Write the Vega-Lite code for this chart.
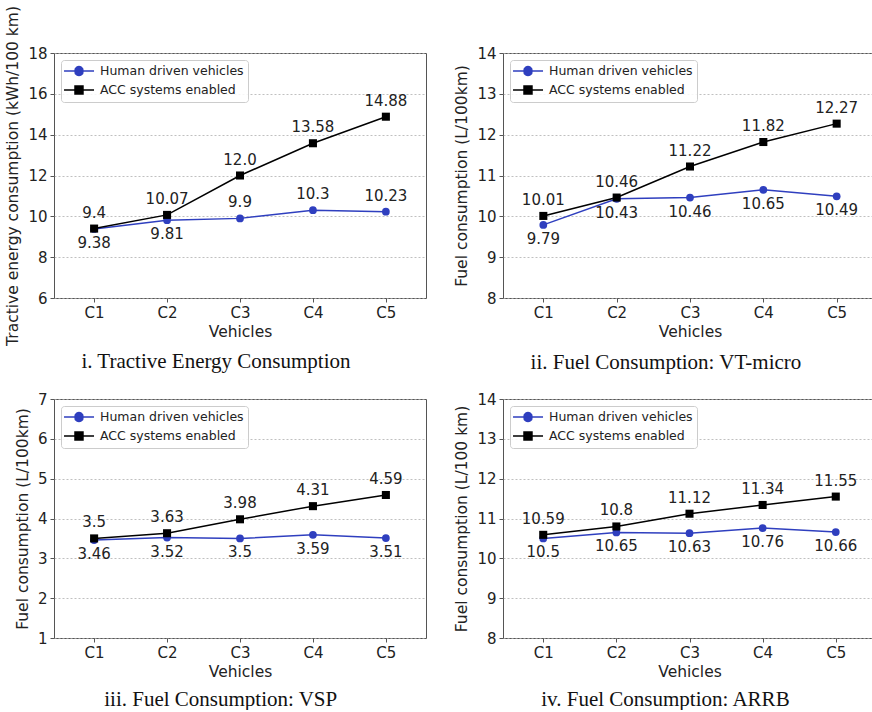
{
  "$schema": "https://vega.github.io/schema/vega-lite/v6.json",
  "padding": {"left": 5, "top": 5, "right": 0, "bottom": 0},
  "background": "white",
  "datasets": {
    "d": [
      {"panel": "i", "vehicle": "C1", "series": "Human driven vehicles", "value": 9.38},
      {"panel": "i", "vehicle": "C2", "series": "Human driven vehicles", "value": 9.81},
      {"panel": "i", "vehicle": "C3", "series": "Human driven vehicles", "value": 9.9},
      {"panel": "i", "vehicle": "C4", "series": "Human driven vehicles", "value": 10.3},
      {"panel": "i", "vehicle": "C5", "series": "Human driven vehicles", "value": 10.23},
      {"panel": "i", "vehicle": "C1", "series": "ACC systems enabled", "value": 9.4},
      {"panel": "i", "vehicle": "C2", "series": "ACC systems enabled", "value": 10.07},
      {"panel": "i", "vehicle": "C3", "series": "ACC systems enabled", "value": 12.0},
      {"panel": "i", "vehicle": "C4", "series": "ACC systems enabled", "value": 13.58},
      {"panel": "i", "vehicle": "C5", "series": "ACC systems enabled", "value": 14.88},
      {"panel": "ii", "vehicle": "C1", "series": "Human driven vehicles", "value": 9.79},
      {"panel": "ii", "vehicle": "C2", "series": "Human driven vehicles", "value": 10.43},
      {"panel": "ii", "vehicle": "C3", "series": "Human driven vehicles", "value": 10.46},
      {"panel": "ii", "vehicle": "C4", "series": "Human driven vehicles", "value": 10.65},
      {"panel": "ii", "vehicle": "C5", "series": "Human driven vehicles", "value": 10.49},
      {"panel": "ii", "vehicle": "C1", "series": "ACC systems enabled", "value": 10.01},
      {"panel": "ii", "vehicle": "C2", "series": "ACC systems enabled", "value": 10.46},
      {"panel": "ii", "vehicle": "C3", "series": "ACC systems enabled", "value": 11.22},
      {"panel": "ii", "vehicle": "C4", "series": "ACC systems enabled", "value": 11.82},
      {"panel": "ii", "vehicle": "C5", "series": "ACC systems enabled", "value": 12.27},
      {"panel": "iii", "vehicle": "C1", "series": "Human driven vehicles", "value": 3.46},
      {"panel": "iii", "vehicle": "C2", "series": "Human driven vehicles", "value": 3.52},
      {"panel": "iii", "vehicle": "C3", "series": "Human driven vehicles", "value": 3.5},
      {"panel": "iii", "vehicle": "C4", "series": "Human driven vehicles", "value": 3.59},
      {"panel": "iii", "vehicle": "C5", "series": "Human driven vehicles", "value": 3.51},
      {"panel": "iii", "vehicle": "C1", "series": "ACC systems enabled", "value": 3.5},
      {"panel": "iii", "vehicle": "C2", "series": "ACC systems enabled", "value": 3.63},
      {"panel": "iii", "vehicle": "C3", "series": "ACC systems enabled", "value": 3.98},
      {"panel": "iii", "vehicle": "C4", "series": "ACC systems enabled", "value": 4.31},
      {"panel": "iii", "vehicle": "C5", "series": "ACC systems enabled", "value": 4.59},
      {"panel": "iv", "vehicle": "C1", "series": "Human driven vehicles", "value": 10.5},
      {"panel": "iv", "vehicle": "C2", "series": "Human driven vehicles", "value": 10.65},
      {"panel": "iv", "vehicle": "C3", "series": "Human driven vehicles", "value": 10.63},
      {"panel": "iv", "vehicle": "C4", "series": "Human driven vehicles", "value": 10.76},
      {"panel": "iv", "vehicle": "C5", "series": "Human driven vehicles", "value": 10.66},
      {"panel": "iv", "vehicle": "C1", "series": "ACC systems enabled", "value": 10.59},
      {"panel": "iv", "vehicle": "C2", "series": "ACC systems enabled", "value": 10.8},
      {"panel": "iv", "vehicle": "C3", "series": "ACC systems enabled", "value": 11.12},
      {"panel": "iv", "vehicle": "C4", "series": "ACC systems enabled", "value": 11.34},
      {"panel": "iv", "vehicle": "C5", "series": "ACC systems enabled", "value": 11.55}
    ]
  },
  "config": {
    "view": {"stroke": "#555", "strokeWidth": 1},
    "axis": {
      "labelFont": "DejaVu Sans", "labelFontSize": 15, "labelColor": "#222",
      "titleFont": "DejaVu Sans", "titleFontSize": 15.5, "titleFontWeight": "normal", "titleColor": "#222",
      "tickColor": "#555", "tickSize": 4, "labelPadding": 3, "domain": false,
      "gridColor": "#b0b0b0", "gridDash": [2, 2], "gridWidth": 0.8
    },
    "title": {"font": "Liberation Serif", "fontSize": 21, "fontWeight": "normal", "color": "#111", "orient": "bottom", "offset": 8, "frame": "bounds", "anchor": "middle"},
    "legend": {
      "title": null, "orient": "top-left", "offset": 7, "padding": 4,
      "symbolSize": 144, "labelOffset": 21, "rowPadding": 3,
      "fillColor": "rgba(255,255,255,0.85)", "strokeColor": "#cccccc", "cornerRadius": 3,
      "labelFont": "DejaVu Sans", "labelFontSize": 12.5, "labelColor": "#222",
      "symbolStrokeWidth": 1.5
    },
    "text": {"font": "DejaVu Sans", "fontSize": 15, "color": "#222", "baseline": "middle"}
  },
  "resolve": {"scale": {"color": "independent", "y": "independent", "x": "independent"}, "legend": {"color": "independent"}},
  "vconcat": [
    {
      "spacing": 27,
      "resolve": {"scale": {"color": "independent", "y": "independent", "x": "independent"}, "legend": {"color": "independent"}},
      "hconcat": [
        {
          "width": 372, "height": 245,
          "title": {"text": "i. Tractive Energy Consumption", "offset": 6},
          "data": {"name": "d"},
          "transform": [
            {"filter": "datum.panel === 'i'"},
            {"calculate": "datum.value === floor(datum.value) ? format(datum.value, '.1f') : '' + datum.value", "as": "label"}
          ],
          "encoding": {
            "x": {"field": "vehicle", "type": "nominal", "scale": {"type": "point", "padding": 0.55}, "axis": {"labelAngle": 0, "title": "Vehicles", "titlePadding": 4}},
            "y": {"field": "value", "type": "quantitative", "scale": {"domain": [6, 18], "nice": false, "zero": false}, "axis": {"values": [6, 8, 10, 12, 14, 16, 18], "title": "Tractive energy consumption (kWh/100 km)", "titlePadding": 7}}
          },
          "layer": [
            {"mark": {"type": "line", "strokeWidth": 1.5},
             "encoding": {"color": {"field": "series", "type": "nominal", "scale": {"domain": ["Human driven vehicles", "ACC systems enabled"], "range": ["#2f3fbf", "#000000"]},
               "legend": {"encode": {"symbols": {"update": {
                 "shape": {"signal": "datum.value === 'Human driven vehicles' ? 'M-1.33,0H3.67M1.83,0A0.67,0.67 0 1,1 0.5,0A0.67,0.67 0 1,1 1.83,0Z' : 'M-1.33,0H3.67M0.5,-0.67H1.83V0.67H0.5Z'"},
                 "fill": {"signal": "datum.value === 'Human driven vehicles' ? '#2f3fbf' : '#000000'"},
                 "stroke": {"signal": "datum.value === 'Human driven vehicles' ? '#2f3fbf' : '#000000'"},
                 "strokeWidth": {"value": 1.5}}}}}}}},
            {"transform": [{"filter": "datum.series === 'Human driven vehicles'"}],
             "mark": {"type": "point", "shape": "circle", "filled": true, "opacity": 1, "size": 60, "color": "#2f3fbf"}},
            {"transform": [{"filter": "datum.series === 'ACC systems enabled'"}],
             "mark": {"type": "point", "shape": "square", "filled": true, "opacity": 1, "size": 65, "color": "#000000"}},
            {"transform": [{"filter": "datum.series === 'ACC systems enabled' || datum.vehicle === 'C3' || datum.vehicle === 'C4' || datum.vehicle === 'C5'"}],
             "mark": {"type": "text", "dy": -16}, "encoding": {"text": {"field": "label"}}},
            {"transform": [{"filter": "datum.series === 'Human driven vehicles' && (datum.vehicle === 'C1' || datum.vehicle === 'C2')"}],
             "mark": {"type": "text", "dy": 14}, "encoding": {"text": {"field": "label"}}}
          ]
        },
        {
          "width": 374, "height": 245,
          "title": {"text": "ii. Fuel Consumption: VT-micro", "offset": 12},
          "data": {"name": "d"},
          "transform": [
            {"filter": "datum.panel === 'ii'"},
            {"calculate": "datum.value === floor(datum.value) ? format(datum.value, '.1f') : '' + datum.value", "as": "label"}
          ],
          "encoding": {
            "x": {"field": "vehicle", "type": "nominal", "scale": {"type": "point", "padding": 0.55}, "axis": {"labelAngle": 0, "title": "Vehicles", "titlePadding": 4}},
            "y": {"field": "value", "type": "quantitative", "scale": {"domain": [8, 14], "nice": false, "zero": false}, "axis": {"values": [8, 9, 10, 11, 12, 13, 14], "title": "Fuel consumption (L/100km)", "titlePadding": 7}}
          },
          "layer": [
            {"mark": {"type": "line", "strokeWidth": 1.5},
             "encoding": {"color": {"field": "series", "type": "nominal", "scale": {"domain": ["Human driven vehicles", "ACC systems enabled"], "range": ["#2f3fbf", "#000000"]},
               "legend": {"encode": {"symbols": {"update": {
                 "shape": {"signal": "datum.value === 'Human driven vehicles' ? 'M-1.33,0H3.67M1.83,0A0.67,0.67 0 1,1 0.5,0A0.67,0.67 0 1,1 1.83,0Z' : 'M-1.33,0H3.67M0.5,-0.67H1.83V0.67H0.5Z'"},
                 "fill": {"signal": "datum.value === 'Human driven vehicles' ? '#2f3fbf' : '#000000'"},
                 "stroke": {"signal": "datum.value === 'Human driven vehicles' ? '#2f3fbf' : '#000000'"},
                 "strokeWidth": {"value": 1.5}}}}}}}},
            {"transform": [{"filter": "datum.series === 'Human driven vehicles'"}],
             "mark": {"type": "point", "shape": "circle", "filled": true, "opacity": 1, "size": 60, "color": "#2f3fbf"}},
            {"transform": [{"filter": "datum.series === 'ACC systems enabled'"}],
             "mark": {"type": "point", "shape": "square", "filled": true, "opacity": 1, "size": 65, "color": "#000000"}},
            {"transform": [{"filter": "datum.series === 'ACC systems enabled'"}],
             "mark": {"type": "text", "dy": -16}, "encoding": {"text": {"field": "label"}}},
            {"transform": [{"filter": "datum.series === 'Human driven vehicles'"}],
             "mark": {"type": "text", "dy": 14}, "encoding": {"text": {"field": "label"}}}
          ]
        }
      ]
    },
    {
      "spacing": 27,
      "resolve": {"scale": {"color": "independent", "y": "independent", "x": "independent"}, "legend": {"color": "independent"}},
      "hconcat": [
        {
          "width": 372, "height": 239,
          "title": {"text": "iii. Fuel Consumption: VSP", "offset": 9},
          "data": {"name": "d"},
          "transform": [
            {"filter": "datum.panel === 'iii'"},
            {"calculate": "datum.value === floor(datum.value) ? format(datum.value, '.1f') : '' + datum.value", "as": "label"}
          ],
          "encoding": {
            "x": {"field": "vehicle", "type": "nominal", "scale": {"type": "point", "padding": 0.55}, "axis": {"labelAngle": 0, "title": "Vehicles", "titlePadding": 4}},
            "y": {"field": "value", "type": "quantitative", "scale": {"domain": [1, 7], "nice": false, "zero": false}, "axis": {"values": [1, 2, 3, 4, 5, 6, 7], "title": "Fuel consumption (L/100km)", "titlePadding": 7}}
          },
          "layer": [
            {"mark": {"type": "line", "strokeWidth": 1.5},
             "encoding": {"color": {"field": "series", "type": "nominal", "scale": {"domain": ["Human driven vehicles", "ACC systems enabled"], "range": ["#2f3fbf", "#000000"]},
               "legend": {"encode": {"symbols": {"update": {
                 "shape": {"signal": "datum.value === 'Human driven vehicles' ? 'M-1.33,0H3.67M1.83,0A0.67,0.67 0 1,1 0.5,0A0.67,0.67 0 1,1 1.83,0Z' : 'M-1.33,0H3.67M0.5,-0.67H1.83V0.67H0.5Z'"},
                 "fill": {"signal": "datum.value === 'Human driven vehicles' ? '#2f3fbf' : '#000000'"},
                 "stroke": {"signal": "datum.value === 'Human driven vehicles' ? '#2f3fbf' : '#000000'"},
                 "strokeWidth": {"value": 1.5}}}}}}}},
            {"transform": [{"filter": "datum.series === 'Human driven vehicles'"}],
             "mark": {"type": "point", "shape": "circle", "filled": true, "opacity": 1, "size": 60, "color": "#2f3fbf"}},
            {"transform": [{"filter": "datum.series === 'ACC systems enabled'"}],
             "mark": {"type": "point", "shape": "square", "filled": true, "opacity": 1, "size": 65, "color": "#000000"}},
            {"transform": [{"filter": "datum.series === 'ACC systems enabled'"}],
             "mark": {"type": "text", "dy": -16}, "encoding": {"text": {"field": "label"}}},
            {"transform": [{"filter": "datum.series === 'Human driven vehicles'"}],
             "mark": {"type": "text", "dy": 14}, "encoding": {"text": {"field": "label"}}}
          ]
        },
        {
          "width": 373, "height": 239,
          "title": {"text": "iv. Fuel Consumption: ARRB", "offset": 9},
          "data": {"name": "d"},
          "transform": [
            {"filter": "datum.panel === 'iv'"},
            {"calculate": "datum.value === floor(datum.value) ? format(datum.value, '.1f') : '' + datum.value", "as": "label"}
          ],
          "encoding": {
            "x": {"field": "vehicle", "type": "nominal", "scale": {"type": "point", "padding": 0.55}, "axis": {"labelAngle": 0, "title": "Vehicles", "titlePadding": 4}},
            "y": {"field": "value", "type": "quantitative", "scale": {"domain": [8, 14], "nice": false, "zero": false}, "axis": {"values": [8, 9, 10, 11, 12, 13, 14], "title": "Fuel consumption (L/100 km)", "titlePadding": 7}}
          },
          "layer": [
            {"mark": {"type": "line", "strokeWidth": 1.5},
             "encoding": {"color": {"field": "series", "type": "nominal", "scale": {"domain": ["Human driven vehicles", "ACC systems enabled"], "range": ["#2f3fbf", "#000000"]},
               "legend": {"encode": {"symbols": {"update": {
                 "shape": {"signal": "datum.value === 'Human driven vehicles' ? 'M-1.33,0H3.67M1.83,0A0.67,0.67 0 1,1 0.5,0A0.67,0.67 0 1,1 1.83,0Z' : 'M-1.33,0H3.67M0.5,-0.67H1.83V0.67H0.5Z'"},
                 "fill": {"signal": "datum.value === 'Human driven vehicles' ? '#2f3fbf' : '#000000'"},
                 "stroke": {"signal": "datum.value === 'Human driven vehicles' ? '#2f3fbf' : '#000000'"},
                 "strokeWidth": {"value": 1.5}}}}}}}},
            {"transform": [{"filter": "datum.series === 'Human driven vehicles'"}],
             "mark": {"type": "point", "shape": "circle", "filled": true, "opacity": 1, "size": 60, "color": "#2f3fbf"}},
            {"transform": [{"filter": "datum.series === 'ACC systems enabled'"}],
             "mark": {"type": "point", "shape": "square", "filled": true, "opacity": 1, "size": 65, "color": "#000000"}},
            {"transform": [{"filter": "datum.series === 'ACC systems enabled'"}],
             "mark": {"type": "text", "dy": -16}, "encoding": {"text": {"field": "label"}}},
            {"transform": [{"filter": "datum.series === 'Human driven vehicles'"}],
             "mark": {"type": "text", "dy": 14}, "encoding": {"text": {"field": "label"}}}
          ]
        }
      ]
    }
  ],
  "spacing": 18
}
